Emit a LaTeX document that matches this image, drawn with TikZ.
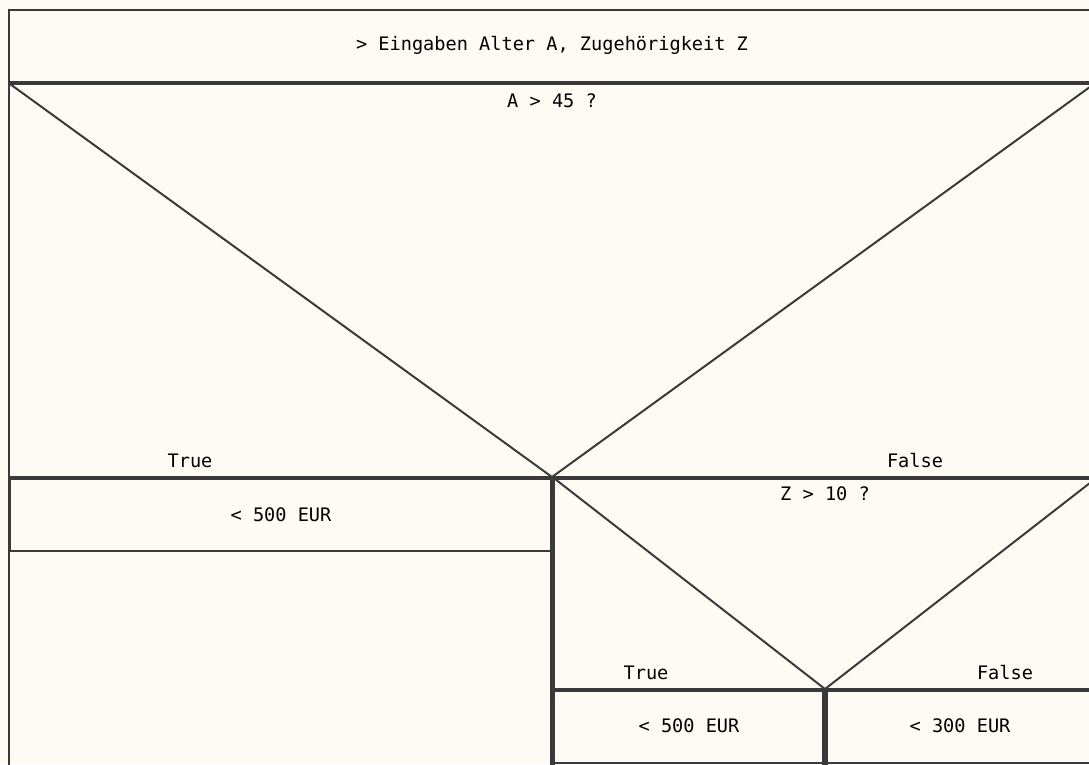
\documentclass[tikz,border=0pt]{standalone}
\usepackage{fontspec}
\setmonofont{DejaVu Sans Mono}
\usepackage{xcolor}
\usepackage{tikz}
\usetikzlibrary{calc,positioning}

\definecolor{paper}{HTML}{FDFBF3}
\definecolor{ink}{HTML}{3A3A3A}
\definecolor{label}{HTML}{575757}

\begin{document}
\begin{tikzpicture}[x=1pt,y=-1pt,
    thinline/.style={ink, line width=2pt},
    diagline/.style={ink, line width=2pt},
    sepline/.style={ink, line width=4pt},
    colline/.style={ink, line width=5.5pt},
    txt/.style={label, font=\ttfamily\fontsize{18.6}{21}\selectfont, inner sep=0pt}]
    \fill[paper] (0,0) rectangle (1089,764);
    \useasboundingbox (0,0) rectangle (1089,764);
    \clip (0,0) rectangle (1089,764);

    \coordinate (TL) at (9,10);
    \coordinate (TR) at (1095,10);
    \coordinate (D1) at (552,477);
    \coordinate (D2) at (825,689);

    % outer frame and input block
    \draw[thinline] (9,790) -- (TL) -- (TR) -- (1095,790);
    \draw[sepline] (9,82.5) -- (1095,82.5);

    % first decision
    \draw[diagline] (10,84) -- (D1) -- (1094,84);
    \draw[sepline] (9,477.5) -- (1095,477.5);
    \draw[thinline] (10,477) -- (10,551) -- (550,551);
    \draw[colline] (552.5,477) -- (552.5,790);

    % second decision
    \draw[diagline] (555,479) -- (D2) -- (1095,479);
    \draw[sepline] (553,690) -- (1095,690);
    \draw[colline] (825,690) -- (825,790);
    \draw[thinline] (553,763) -- (1095,763);

    \node[txt] (input) at (552,45) {> Eingaben Alter A, Zugehörigkeit Z};
    \node[txt] (condA) at (552,101) {A > 45 ?};
    \node[txt] (trueA) at (190,461) {True};
    \node[txt] (falseA) at (915,461) {False};
    \node[txt] (outA) at (281,515) {< 500 EUR};
    \node[txt] (condZ) at (825,494) {Z > 10 ?};
    \node[txt] (trueZ) at (646,673) {True};
    \node[txt] (falseZ) at (1005,673) {False};
    \node[txt] (outZt) at (689,726) {< 500 EUR};
    \node[txt] (outZf) at (960,726) {< 300 EUR};
\end{tikzpicture}
\end{document}
